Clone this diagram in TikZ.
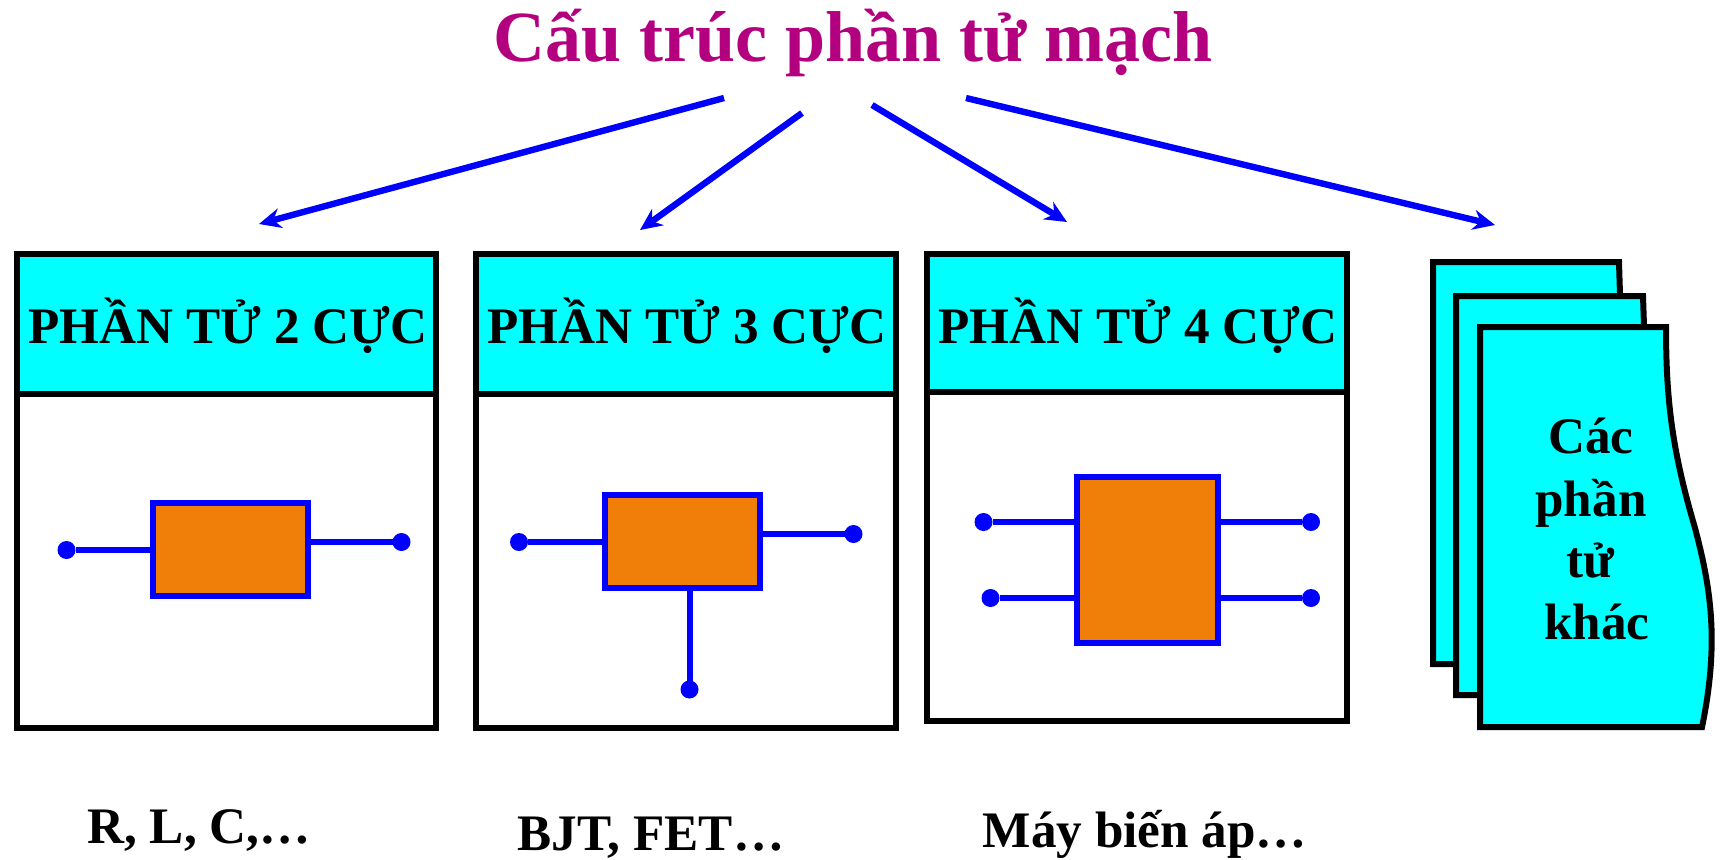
\documentclass[tikz,border=0pt]{standalone}
\usepackage{fontspec}
\setmainfont{Liberation Serif}
\usetikzlibrary{arrows.meta}
\definecolor{pure}{HTML}{0000FF}
\definecolor{sheet}{HTML}{00FFFF}
\definecolor{core}{HTML}{F07F09}
\definecolor{heading}{HTML}{B3007F}
\tikzset{
  panel/.style={draw=black,line width=3pt,fill=white,inner sep=0pt,outer sep=0pt,anchor=north west},
  headbox/.style={panel,fill=sheet},
  corebox/.style={draw=pure,line width=3pt,fill=core,inner sep=0pt,outer sep=0pt,anchor=north west},
  pin/.style={circle,fill=pure,inner sep=0pt,outer sep=0pt,minimum size=9pt},
  lead/.style={draw=pure,line width=3pt},
  branch/.style={draw=pure,line width=3.2pt,-{Stealth[length=11pt,width=10pt]}},
  paper/.style={draw=black,line width=3pt,fill=sheet,line join=miter},
  label/.style={font=\bfseries\fontsize{25.6}{25.6}\selectfont,anchor=base,inner sep=0pt,text=black},
  titletext/.style={font=\bfseries\fontsize{36}{36}\selectfont,anchor=base,inner sep=0pt,text=heading}
}
\begin{document}
\begin{tikzpicture}[x=0.5pt,y=-0.5pt]
\path[use as bounding box] (0,0) rectangle (1727,859);
\node[titletext] (title) at (853,61) {Cấu trúc phần tử mạch};
% arrows
\coordinate (a1s) at (724,98);   \coordinate (a1e) at (259,224);
\coordinate (a2s) at (802,113);  \coordinate (a2e) at (640,230);
\coordinate (a3s) at (872,105);  \coordinate (a3e) at (1067,222);
\coordinate (a4s) at (966,98);   \coordinate (a4e) at (1495,225);
\draw[branch] (a1s) -- (a1e);
\draw[branch] (a2s) -- (a2e);
\draw[branch] (a3s) -- (a3e);
\draw[branch] (a4s) -- (a4e);
% panel 1
\node[panel,minimum width=209.8pt,minimum height=237pt] (p1) at (16.5,254) {};
\node[headbox,minimum width=209.8pt,minimum height=70pt] (h1) at (16.5,254) {};
\node[label] (t1) at (228,343) {PHẦN TỬ 2 CỰC};
\node[corebox,minimum width=77.8pt,minimum height=46.3pt] (c1) at (152.7,503) {};
\node[pin] (d1a) at (66.5,550) {};
\node[pin] (d1b) at (401.5,542) {};
\draw[lead] (d1a) -- (d1a -| c1.west);
\draw[lead] (d1b) -- (d1b -| c1.east);
% panel 2
\node[panel,minimum width=209.8pt,minimum height=237pt] (p2) at (476,254) {};
\node[headbox,minimum width=209.8pt,minimum height=70pt] (h2) at (476,254) {};
\node[label] (t2) at (687,343) {PHẦN TỬ 3 CỰC};
\node[corebox,minimum width=77.8pt,minimum height=46.3pt] (c2) at (604.7,495) {};
\node[pin] (d2a) at (519,542) {};
\node[pin] (d2b) at (853.5,534) {};
\node[pin] (d2c) at (689.5,689.5) {};
\draw[lead] (d2a) -- (d2a -| c2.west);
\draw[lead] (d2b) -- (d2b -| c2.east);
\draw[lead] (d2c) -- (d2c |- c2.south);
% panel 3
\node[panel,minimum width=210pt,minimum height=233.5pt] (p3) at (927,254) {};
\node[headbox,minimum width=210pt,minimum height=69pt] (h3) at (927,254) {};
\node[label] (t3) at (1138,343) {PHẦN TỬ 4 CỰC};
\node[corebox,minimum width=70.5pt,minimum height=83pt] (c3) at (1076.5,476.5) {};
\node[pin] (d3a) at (983.5,522) {};
\node[pin] (d3b) at (990.5,598) {};
\node[pin] (d3c) at (1311,522) {};
\node[pin] (d3d) at (1311,598) {};
\draw[lead] (d3a) -- (d3a -| c3.west);
\draw[lead] (d3b) -- (d3b -| c3.west);
\draw[lead] (d3c) -- (d3c -| c3.east);
\draw[lead] (d3d) -- (d3d -| c3.east);
% stacked sheets
\draw[paper] (1433,262) -- (1619,262) .. controls (1620,300) and (1622,340) .. (1622,400) -- (1622,664) -- (1433,664) -- cycle;
\draw[paper] (1456,296) -- (1643,296) .. controls (1644,330) and (1646,370) .. (1646,420) -- (1646,695) -- (1456,695) -- cycle;
\draw[paper] (1480,327) -- (1666,327) .. controls (1666,400) and (1672,450) .. (1695,528) .. controls (1710,585) and (1720,640) .. (1702,727) -- (1480,727) -- cycle;
\node[label] (s1) at (1591,453) {Các};
\node[label] (s2) at (1591,516.5) {phần};
\node[label] (s3) at (1590,577) {tử};
\node[label] (s4) at (1597,639) {khác};
% bottom captions
\node[label] (b1) at (199,843) {R, L, C,…};
\node[label] (b2) at (651,850) {BJT, FET…};
\node[label] (b3) at (1145,847) {Máy biến áp…};
\end{tikzpicture}
\end{document}
